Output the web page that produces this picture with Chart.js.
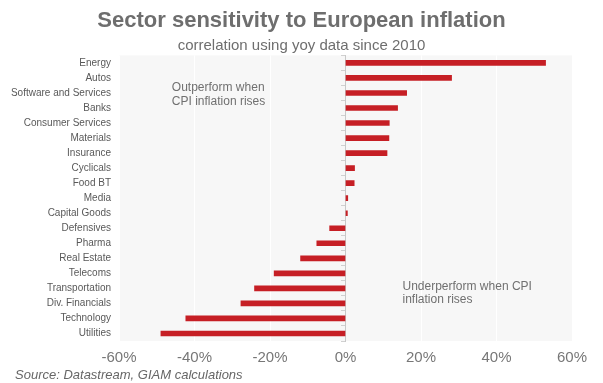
<!DOCTYPE html>
<html>
<head>
<meta charset="utf-8">
<script src="https://cdn.jsdelivr.net/npm/chart.js@4"></script>
<style>
  html, body { margin: 0; padding: 0; background: #fff; }
  #wrap { width: 603px; height: 383px; position: relative; }
</style>
</head>
<body>
<div id="wrap"><canvas id="sensChart"></canvas></div>
<script>
// Settori (dall'alto in basso) e correlazione (%)
const sectors = [
    'Energy', 'Autos', 'Software and Services', 'Banks', 'Consumer Services',
    'Materials', 'Insurance', 'Cyclicals', 'Food BT', 'Media', 'Capital Goods',
    'Defensives', 'Pharma', 'Real Estate', 'Telecoms', 'Transportation',
    'Div. Financials', 'Technology', 'Utilities'
];
const correlation = [
    53.0, 28.1, 16.2, 13.8, 11.6,
    11.5, 11.0, 2.4, 2.3, 0.6, 0.5,
    -4.2, -7.6, -11.9, -18.9, -24.1,
    -27.7, -42.3, -48.9
];
const xTicks = [-60, -40, -20, 0, 20, 40, 60];

const titleText = 'Sector sensitivity to European inflation';
const subtitleText = 'correlation using yoy data since 2010';
const sourceText = 'Source: Datastream, GIAM calculations';

// Note nel grafico: [valore x, indice categoria, testo]
const notes = [
    [-46, 1.66, 'Outperform when'],
    [-46, 2.55, 'CPI inflation rises'],
    [15.1, 14.86, 'Underperform when CPI'],
    [15.1, 15.78, 'inflation rises']
];

const FONT = "'Liberation Sans', Arial, sans-serif";

// Sfondo grigio dell'area del grafico
const plotBackground = {
    id: 'plotBackground',
    beforeDraw(chart) {
        const { ctx, chartArea } = chart;
        ctx.save();
        ctx.fillStyle = '#f7f7f7';
        ctx.fillRect(chartArea.left, chartArea.top, chartArea.right - chartArea.left, chartArea.bottom - chartArea.top);
        ctx.restore();
    }
};

// Note e fonte
const textLayer = {
    id: 'textLayer',
    afterDraw(chart) {
        const ctx = chart.ctx;
        const xs = chart.scales.x;
        const ys = chart.scales.y;
        ctx.save();
        ctx.fillStyle = '#707070';
        ctx.font = '12px ' + FONT;
        ctx.textAlign = 'left';
        ctx.textBaseline = 'middle';
        notes.forEach(n => {
            ctx.fillText(n[2], xs.getPixelForValue(n[0]), ys.getPixelForValue(n[1]));
        });
        ctx.font = 'italic 13px ' + FONT;
        ctx.fillStyle = '#666';
        ctx.fillText(sourceText, 15, 375);
        ctx.restore();
    }
};

new Chart(document.getElementById('sensChart'), {
    type: 'bar',
    data: {
        labels: sectors,
        datasets: [{
            data: correlation,
            backgroundColor: '#c61f25',
            borderWidth: 0,
            barThickness: 5
        }]
    },
    options: {
        indexAxis: 'y',
        responsive: true,
        maintainAspectRatio: false,
        animation: false,
        layout: { padding: { left: 0, right: 0, top: 0, bottom: 20 } },
        plugins: {
            legend: { display: false },
            tooltip: { enabled: false },
            title: {
                display: true,
                text: titleText,
                color: '#6e6e6e',
                font: { family: FONT, size: 22, weight: 'bold' },
                padding: { top: 8, bottom: 1 }
            },
            subtitle: {
                display: true,
                text: subtitleText,
                color: '#6e6e6e',
                font: { family: FONT, size: 15 },
                padding: { top: 1, bottom: 1 }
            }
        },
        scales: {
            x: {
                min: -60,
                max: 60,
                afterBuildTicks: function(scale) {
                    scale.ticks = xTicks.map(v => ({ value: v }));
                },
                afterFit: function(scale) {
                    scale.height = 22;
                    scale.paddingLeft = 0;
                    scale.paddingRight = 31;
                },
                grid: {
                    color: function(c) {
                        if (c.tick && c.tick.value === 0) return 'rgba(0,0,0,0)';
                        return '#ffffff';
                    },
                    drawTicks: false
                },
                border: { display: false },
                ticks: {
                    padding: 8,
                    color: '#777',
                    font: { family: FONT, size: 15 },
                    callback: v => v + '%'
                }
            },
            y: {
                afterFit: function(scale) { scale.width = 119; },
                grid: { display: false, drawTicks: false },
                border: { display: false },
                ticks: {
                    padding: 8,
                    color: '#595959',
                    font: { family: FONT, size: 10 }
                }
            },
            y2: {
                type: 'category',
                labels: sectors,
                position: { x: 0 },
                ticks: { display: false },
                grid: {
                    offset: true,
                    drawOnChartArea: false,
                    tickLength: 4,
                    color: '#d0d0d0'
                },
                border: { display: true, color: '#c8c8c8', width: 1 }
            }
        }
    },
    plugins: [plotBackground, textLayer]
});
</script>
</body>
</html>
